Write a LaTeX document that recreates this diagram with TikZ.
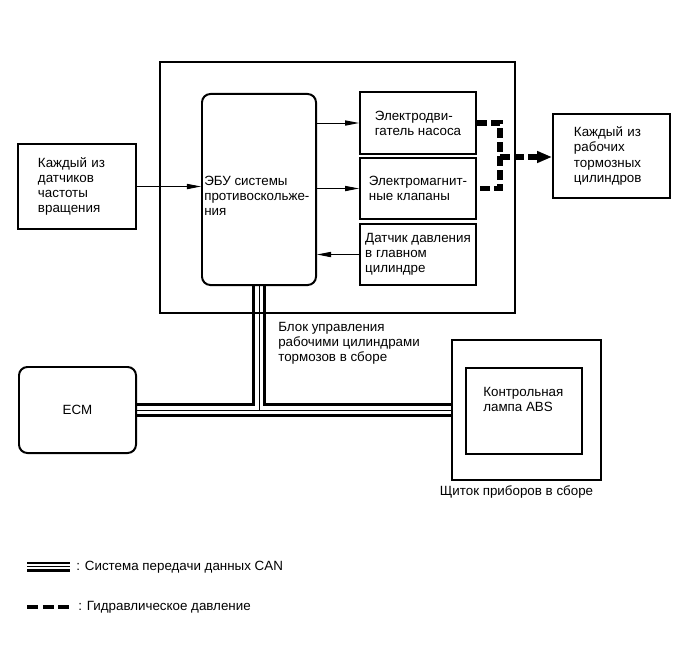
\documentclass[tikz,border=0pt]{standalone}
\usepackage{fontspec}
\setmainfont{Liberation Sans}
\usetikzlibrary{positioning,arrows.meta,backgrounds}

\begin{document}
\begin{tikzpicture}[x=0.025cm,y=-0.025cm,
  every node/.style={font=\fontsize{9.5}{10.8}\selectfont},
  blk/.style={draw,line width=1.4pt,align=left,inner sep=0pt},
  rblk/.style={blk,rounded corners=6pt},
  txt/.style={align=left,inner sep=0pt},
  sig/.style={-{Triangle[length=0.35cm,width=0.13cm]},line width=0.7pt},
  hyd/.style={line width=3.6pt,dash pattern=on 7pt off 3pt},
  hydtip/.style={-{Triangle[length=0.375cm,width=0.28cm]}},
  canout/.style={line width=0.35cm},
  canin/.style={white,line width=0.19cm},
  canmid/.style={line width=0.7pt}]
\useasboundingbox (0,0) rectangle (690,659);
% brake actuator assembly
\node[blk,line width=1pt,minimum width=8.875cm,minimum height=6.275cm] (unit) at (337.5,187.5) {};
\node[rblk,minimum width=2.85cm,minimum height=4.775cm] (ecu) at (259,189.5) {};
\node[txt,anchor=north west] (ecutxt) at (204,176) {ЭБУ системы\\противоскольже-\\ния};
\node[blk,minimum width=2.9cm,minimum height=1.55cm] (pump) at (418,123) {Электродви-\\гатель насоса};
\node[blk,minimum width=2.9cm,minimum height=1.525cm] (valves) at (418,188.5) {Электромагнит-\\ные клапаны};
\node[blk,minimum width=2.9cm,minimum height=1.525cm] (sensor) at (418,254.5) {Датчик давления\\в главном\\цилиндре};
\node[txt,anchor=north west] (unitlbl) at (278,322) {Блок управления\\рабочими цилиндрами\\тормозов в сборе};
% outside
\node[blk,minimum width=2.95cm,minimum height=2.125cm,text width=1.95cm] (speed) at (77,186.5) {Каждый из\\датчиков\\частоты\\вращения};
\node[blk,minimum width=2.925cm,minimum height=2.1cm,text width=1.875cm] (wheel) at (611.5,156) {Каждый из\\рабочих\\тормозных\\цилиндров};
\node[rblk,minimum width=2.925cm,minimum height=2.15cm] (ecm) at (77.5,410) {ECM};
\node[blk,minimum width=3.725cm,minimum height=3.5cm] (meter) at (526.5,410) {};
\node[blk,minimum width=2.9cm,minimum height=2.15cm] (lamp) at (524,411) {};
\node[txt,anchor=north west] (lamptxt) at (483,387) {Контрольная\\лампа ABS};
\node[below=0pt of meter,xshift=-0.25cm] (meterlbl) {Щиток приборов в сборе};

\draw[sig] (speed.east) -- (speed.east -| ecu.west);
\draw[sig] (ecu.east |- pump) -- (pump.west);
\draw[sig] (ecu.east |- valves) -- (valves.west);
\draw[sig] (sensor.west) -- (sensor.west -| ecu.east);

\coordinate (hydx) at (500,157);
\draw[hyd] (pump.east) -| (hydx) |- (valves.east);
\draw[hyd,hydtip] (hydx) -- (hydx -| wheel.west);

\begin{scope}[on background layer]
\foreach \s in {canout,canin,canmid}{
  \draw[\s] (ecm.east) -- (meter.west);
  \draw[\s] (ecu.south) -- (ecu.south |- ecm.east);
}
\end{scope}

% legend
\coordinate (canA) at (27,566.5);
\coordinate (canB) at (70,566.5);
\draw[line width=0.25cm] (canA) -- (canB);
\draw[white,line width=0.13cm] (canA) -- (canB);
\draw[canmid] (canA) -- (canB);
\node[txt,anchor=west] (canlbl) at (76,567) {: Система передачи данных CAN};
\coordinate (hydA) at (27,607);
\coordinate (hydB) at (70,607);
\draw[hyd,line width=3pt,dash pattern=on 7.8pt off 3.4pt] (hydA) -- (hydB);
\node[txt,anchor=west] (hydlbl) at (78,607) {: Гидравлическое давление};
\end{tikzpicture}
\end{document}
